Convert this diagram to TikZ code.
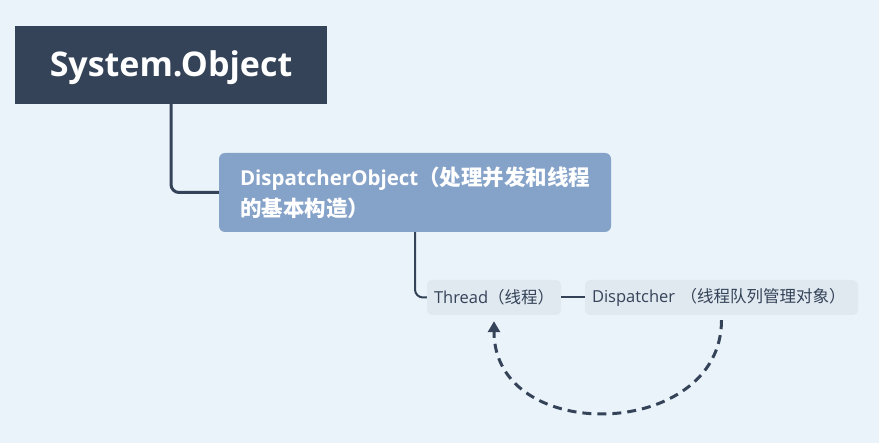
\documentclass[tikz,border=0pt]{standalone}
\usepackage{fontspec}
\setmainfont{Open Sans}
\newfontfamily\cjk{Noto Sans CJK SC}
\usetikzlibrary{arrows.meta}

\definecolor{bgblue}{RGB}{235,243,250}
\definecolor{rootfill}{RGB}{52,67,88}
\definecolor{mainfill}{RGB}{133,162,201}
\definecolor{subfill}{RGB}{224,232,240}
\definecolor{linkcol}{RGB}{52,67,88}

\tikzset{
  rootbox/.style={fill=rootfill, text=white, minimum width=312pt, minimum height=78pt,
    text height=24pt, text depth=0pt, font=\fontsize{34}{40}\selectfont\bfseries},
  mainbox/.style={fill=mainfill, text=white, rounded corners=6pt, minimum width=392pt,
    minimum height=79pt, inner xsep=21pt, text width=350pt, align=left,
    font=\fontsize{20.5}{31}\selectfont\bfseries},
  subbox/.style={fill=subfill, text=linkcol, rounded corners=5pt, minimum height=35pt,
    inner xsep=7pt, align=left, font=\fontsize{16.5}{19}\selectfont},
  link/.style={draw=linkcol, rounded corners=8pt},
}

\begin{document}
\begin{tikzpicture}[x=1pt, y=-1pt]%
\fill[bgblue] (0,0) rectangle (879,443);%
\useasboundingbox (0,0) rectangle (879,443);%
% boxes
\node[rootbox] (sysobj) at (171,65) {System.Object};%
\node[mainbox] (dobj) at (415,192.5) {DispatcherObject{\cjk\bfseries\fontsize{21.5}{31}\selectfont （处理并发和线程}\\{\cjk\bfseries\fontsize{21.5}{31}\selectfont 的基本构造）}};%
\node[subbox, text width=120pt] (thread) at (494,297.5) {Thread{\cjk （线程）}};%
\node[subbox, text width=259pt] (disp) at (721.5,297.5) {Dispatcher {\cjk （线程队列管理对象）}};%
% connectors
\draw[link, line width=3pt] (sysobj.south) |- (dobj.west);%
\draw[link, line width=2pt] (dobj.south) |- (thread.west);%
\draw[link, line width=2pt] (thread.east) -- (disp.west);%
\draw[draw=linkcol, line width=3pt, dash pattern=on 9pt off 6pt, -{Triangle[length=11pt,width=12pt]}]
  ([yshift=-5pt]disp.south) .. controls +(0,120) and +(0,125) .. ([yshift=-6pt]thread.south);%
\end{tikzpicture}
\end{document}
